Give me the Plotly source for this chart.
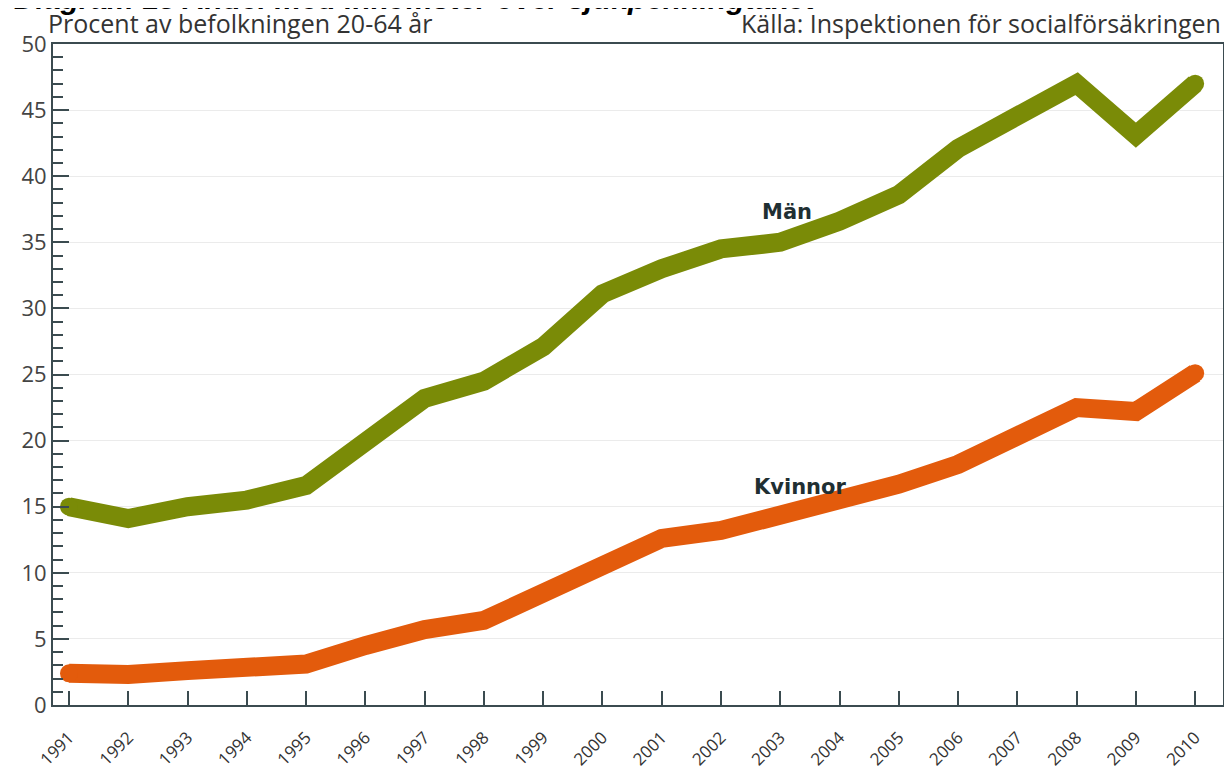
import plotly.graph_objects as go

# data
years = list(range(1991, 2011))
man = [15.0, 14.1, 15.0, 15.5, 16.6, 19.8, 23.2, 24.5, 27.1, 31.1,
       33.0, 34.5, 35.0, 36.6, 38.6, 42.1, 44.6, 47.0, 43.1, 47.0]
kvinnor = [2.4, 2.3, 2.6, 2.9, 3.1, 4.5, 5.7, 6.4, 8.4, 10.3,
           12.6, 13.2, 14.3, 15.3, 16.7, 18.2, 20.2, 22.5, 22.2, 25.1]
y_ticks = [0, 5, 10, 15, 20, 25, 30, 35, 40, 45, 50]

GREEN = '#7a8b07'
ORANGE = '#e35b0c'
AXIS = '#3b4b50'
LW = 19

# round caps only at the two ends of each line
cap_sizes = [LW - 1] + [0] * (len(years) - 2) + [LW - 1]

fig = go.Figure()

fig.add_trace(go.Scatter(
    x=years, y=man, mode='lines+markers', name='Män',
    line=dict(color=GREEN, width=LW),
    marker=dict(color=GREEN, size=cap_sizes, opacity=1, line=dict(width=0)),
    hoverinfo='skip'
))
fig.add_trace(go.Scatter(
    x=years, y=kvinnor, mode='lines+markers', name='Kvinnor',
    line=dict(color=ORANGE, width=LW),
    marker=dict(color=ORANGE, size=cap_sizes, opacity=1, line=dict(width=0)),
    hoverinfo='skip'
))

# series labels
fig.add_annotation(x=2003.12, y=37.3, text='<b>Män</b>', showarrow=False,
                   font=dict(family='DejaVu Sans', size=21, color='#1f2f33'))
fig.add_annotation(x=2003.33, y=16.5, text='<b>Kvinnor</b>', showarrow=False,
                   font=dict(family='DejaVu Sans', size=21, color='#1f2f33'))

# header texts (the main title is cut at the top edge, as in the original)
fig.add_annotation(xref='paper', yref='paper', x=-0.035, y=1.041, xanchor='left', yanchor='bottom',
                   text='<b><i>Diagram 13 Andel med inkomster över sjukpenningtaket</i></b>',
                   showarrow=False, font=dict(family='Liberation Sans', size=30, color='#000'))
fig.add_annotation(xref='paper', yref='paper', x=-0.006, y=1.003, xanchor='left', yanchor='bottom',
                   text='Procent av befolkningen 20-64 år', showarrow=False,
                   font=dict(family='Open Sans', size=25, color='#333'))
fig.add_annotation(xref='paper', yref='paper', x=1.0, y=1.003, xanchor='right', yanchor='bottom',
                   text='Källa: Inspektionen för socialförsäkringen', showarrow=False,
                   font=dict(family='Open Sans', size=25, color='#333'))

# page body keeps an 8px margin, so the figure sits 8px in from the corner
fig.update_layout(
    width=1216, height=761,
    margin=dict(l=45, r=1, t=36, b=64),
    paper_bgcolor='white', plot_bgcolor='white',
    showlegend=False,
    xaxis=dict(
        range=[1990.73, 2010.47],
        tickvals=years, ticktext=[str(y) for y in years],
        tickangle=-45, ticks='inside', ticklen=14, tickwidth=2, tickcolor=AXIS,
        tickfont=dict(family='Open Sans', size=17, color='#333'),
        ticklabelstandoff=14,
        showline=True, linecolor=AXIS, linewidth=2, mirror=True,
        showgrid=False, zeroline=False, automargin=False,
    ),
    yaxis=dict(
        range=[0, 50],
        tickvals=y_ticks,
        ticks='inside', ticklen=16, tickwidth=2, tickcolor=AXIS,
        minor=dict(dtick=1, ticks='inside', ticklen=10, tickwidth=2, tickcolor=AXIS, showgrid=False),
        tickfont=dict(family='Open Sans', size=22, color='#444'),
        showline=True, linecolor=AXIS, linewidth=2, mirror=True,
        showgrid=True, gridcolor='#ebebeb', gridwidth=1, zeroline=False, automargin=False,
    ),
)

fig.write_html('out.html')
